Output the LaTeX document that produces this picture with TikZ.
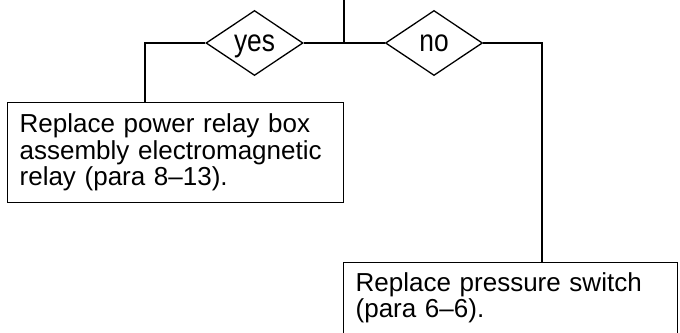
\documentclass[tikz,border=0pt]{standalone}
\usepackage{fontspec}
\usepackage{graphicx}
\setmainfont{Liberation Sans}
\usetikzlibrary{shapes.geometric}
\newcommand{\condensed}[1]{\scalebox{0.85}[1]{#1}}
\begin{document}
\begin{tikzpicture}[x=1pt,y=-1pt,
  line width=1.3pt,
  every node/.style={font=\fontsize{26}{26.5}\selectfont},
  decision/.style={draw,diamond,inner sep=0pt,minimum width=97pt,minimum height=65pt,
    font=\fontsize{31}{32}\selectfont,text height=16pt,text depth=0pt},
  actionbox/.style={draw,rectangle,align=left,anchor=north west,inner ysep=0pt,inner xsep=12pt}
]
\useasboundingbox (0,0) rectangle (680,332);
\clip (0,0) rectangle (680,332);
\coordinate (top) at (344,-2);
\coordinate (junc) at (344,43);
\node[decision] (yes) at (254.5,43) {\condensed{yes}};
\node[decision] (no) at (434,43) {\condensed{no}};
\coordinate (ycorner) at (145,43);
\coordinate (ncorner) at (542,43);
\node[actionbox,text width=312pt,minimum height=100pt] (box1) at (7,102) {Replace power relay box\\assembly electromagnetic\\relay (para 8--13).};
\node[actionbox,text width=310pt,inner ysep=10pt] (box2) at (343,262) {Replace pressure switch\\(para 6--6).\\\mbox{}\\\mbox{}};
\draw (top) -- (junc);
\draw (yes.east) -- (no.west);
\draw (yes.west) -- (ycorner) -- (ycorner |- box1.north);
\draw (no.east) -- (ncorner) -- (ncorner |- box2.north);
\end{tikzpicture}
\end{document}
